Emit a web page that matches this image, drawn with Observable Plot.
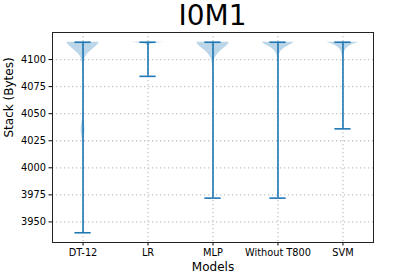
<!DOCTYPE html>
<html>
<head>
<meta charset="utf-8">
<script src="https://cdn.jsdelivr.net/npm/d3@7"></script>
<script src="https://cdn.jsdelivr.net/npm/@observablehq/plot@0.6"></script>
<style>
  html, body { margin: 0; padding: 0; background: #fff; }
  #wrap { width: 415px; height: 277px; font-family: "DejaVu Sans", sans-serif; }
  #title { height: 30px; line-height: 32px; font-size: 28px; text-align: center; padding-left: 10px; box-sizing: border-box; width: 415px; color: #000; }
</style>
</head>
<body>
<div id="wrap">
  <div id="title">I0M1</div>
  <div id="chart"></div>
</div>
<script>
// Categories
const models = ["DT-12", "LR", "MLP", "Without T800", "SVM"];
// Whisker extremes (Bytes)
const minValues = [3940, 4084.5, 3972, 3972, 4036];
const maxValues = [4116, 4116, 4116, 4116, 4116];
// Violin density profiles: [value, relative half-width]
const densityDT12 = [[4116,0.25],[4114,0.23],[4112,0.2],[4110,0.16],[4108,0.12],[4106,0.085],[4104,0.055],[4102,0.035],[4100,0.02],[4097,0.01],[4092,0.005],[4080,0.003],[4060,0.003],[4046,0.008],[4041,0.02],[4035,0.03],[4030,0.02],[4025,0.008],[4010,0.002],[3990,0.001],[3940,0.0005]];
const densityLR = [[4116,0.25],[4115,0.12],[4114,0.03],[4112,0.005],[4100,0.001],[4084.5,0]];
const densityMLP = [[4116,0.25],[4113,0.22],[4110,0.16],[4107,0.1],[4104,0.06],[4101,0.03],[4098,0.015],[4094,0.006],[4085,0.003],[4060,0.002],[4000,0.001],[3972,0]];
const densityWithoutT800 = [[4116,0.25],[4114,0.2],[4112,0.14],[4110,0.09],[4108,0.05],[4106,0.03],[4104,0.015],[4100,0.006],[4090,0.003],[4050,0.001],[3972,0]];
const densitySVM = [[4116,0.25],[4115,0.2],[4113,0.12],[4111,0.07],[4109,0.04],[4106,0.02],[4102,0.008],[4090,0.003],[4060,0.001],[4036,0]];
const yTicks = [3950, 3975, 4000, 4025, 4050, 4075, 4100];

const densities = [densityDT12, densityLR, densityMLP, densityWithoutT800, densitySVM];
const xPos = models.map((m, i) => i + 1);
const stats = models.map((m, i) => ({model: m, pos: i + 1, min: minValues[i], max: maxValues[i]}));
const violin = densities.flatMap((d, i) => d.map(([v, w]) => ({model: models[i], pos: i + 1, v, w})));

const blue = "#1f77b4";
const gridStyle = {stroke: "#c4c4c4", strokeWidth: 1.3, strokeDasharray: "1.3,2.7"};

const chart = Plot.plot({
  width: 415,
  height: 247,
  marginTop: 2,
  marginBottom: 35,
  marginLeft: 52,
  marginRight: 42,
  style: {fontFamily: "DejaVu Sans, sans-serif", fontSize: "9.8px", color: "#000", background: "#fff"},
  x: {domain: [0.53, 5.47], ticks: xPos, tickFormat: d => models[d - 1], tickSize: 3.5, tickPadding: 3, label: null},
  y: {domain: [3931, 4125], ticks: yTicks, tickFormat: d3.format("d"), tickSize: 3.5, tickPadding: 3, label: null},
  marks: [
    Plot.ruleY(yTicks, {y: d => d, ...gridStyle}),
    Plot.ruleX(xPos, {x: d => d, ...gridStyle}),
    Plot.areaX(violin, {y: "v", x1: d => d.pos - d.w, x2: d => d.pos + d.w, z: "model", fill: blue, fillOpacity: 0.3, curve: "monotone-y"}),
    Plot.ruleX(stats, {x: "pos", y1: "min", y2: "max", stroke: blue, strokeWidth: 1.6}),
    Plot.ruleY(stats, {y: "max", x1: d => d.pos - 0.125, x2: d => d.pos + 0.125, stroke: blue, strokeWidth: 1.6}),
    Plot.ruleY(stats, {y: "min", x1: d => d.pos - 0.125, x2: d => d.pos + 0.125, stroke: blue, strokeWidth: 1.6}),
    Plot.frame({stroke: "#222", strokeWidth: 1}),
    Plot.text(["Models"], {frameAnchor: "bottom", dy: 28, fontSize: 12, fill: "#000"}),
    Plot.text(["Stack (Bytes)"], {frameAnchor: "left", dx: -43, rotate: -90, fontSize: 12, fill: "#000"})
  ]
});
document.getElementById("chart").appendChild(chart);
</script>
</body>
</html>
